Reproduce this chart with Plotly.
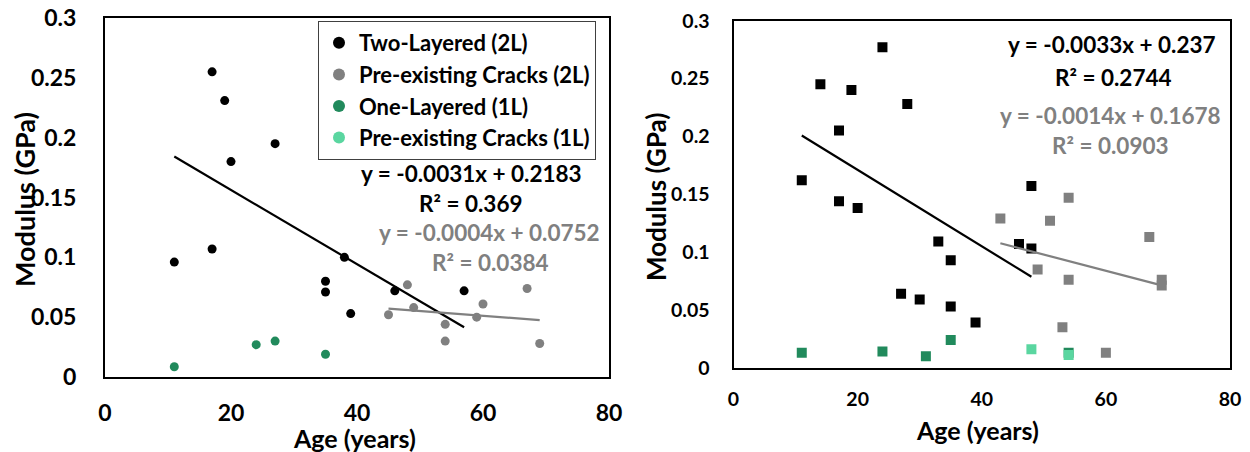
import plotly.graph_objects as go

# ---------------- data ----------------
# Left panel
L_2L_x = [11, 17, 17, 19, 20, 27, 35, 35, 38, 39, 46, 57]
L_2L_y = [0.096, 0.107, 0.255, 0.231, 0.180, 0.195, 0.080, 0.071, 0.100, 0.053, 0.072, 0.072]
L_pre2L_x = [45, 48, 49, 54, 54, 59, 60, 67, 69]
L_pre2L_y = [0.052, 0.077, 0.058, 0.044, 0.030, 0.050, 0.061, 0.074, 0.028]
L_1L_x = [11, 24, 27, 35]
L_1L_y = [0.0086, 0.027, 0.030, 0.019]
L_pre1L_x = [None]
L_pre1L_y = [None]

# Right panel
R_2L_x = [11, 14, 17, 17, 19, 20, 24, 27, 28, 30, 33, 35, 35, 39, 46, 48, 48]
R_2L_y = [0.162, 0.245, 0.205, 0.144, 0.240, 0.138, 0.277, 0.064, 0.228, 0.059,
          0.109, 0.093, 0.053, 0.039, 0.107, 0.103, 0.157]
R_pre2L_x = [43, 49, 51, 53, 54, 54, 60, 67, 69, 69]
R_pre2L_y = [0.129, 0.085, 0.127, 0.035, 0.147, 0.076, 0.013, 0.113, 0.076, 0.071]
R_1L_x = [11, 24, 31, 35, 54]
R_1L_y = [0.013, 0.014, 0.010, 0.024, 0.013]
R_pre1L_x = [48, 54]
R_pre1L_y = [0.016, 0.011]

# Linear trendline coefficients (slope, intercept, R^2) as printed on the chart
L_2L_fit = [-0.0031, 0.2183, "0.369"]
L_pre2L_fit = [-0.0004, 0.0752, "0.0384"]
R_2L_fit = [-0.0033, 0.237, "0.2744"]
R_pre2L_fit = [-0.0014, 0.1678, "0.0903"]

series_names = ["Two-Layered (2L)", "Pre-existing Cracks (2L)",
                "One-Layered (1L)", "Pre-existing Cracks (1L)"]
x_ticks = [0, 20, 40, 60, 80]
y_ticks = [0, 0.05, 0.1, 0.15, 0.2, 0.25, 0.3]
y_tick_text = ["0", "0.05", "0.1", "0.15", "0.2", "0.25", "0.3"]

# ---------------- styling ----------------
W, H = 1250, 452
FONT = "Lato"
C_BLACK = "#000000"
C_GRAY = "#808080"
C_DGREEN = "#218a5c"
C_LGREEN = "#5ad6a0"
colors = [C_BLACK, C_GRAY, C_DGREEN, C_LGREEN]


def px(x):
    return x / W


def py(y):
    return 1 - y / H


fig = go.Figure()

left_sets = [(L_2L_x, L_2L_y), (L_pre2L_x, L_pre2L_y), (L_1L_x, L_1L_y), (L_pre1L_x, L_pre1L_y)]
for (xs, ys), name, c in zip(left_sets, series_names, colors):
    fig.add_trace(go.Scatter(x=xs, y=ys, mode="markers", name=name,
                             marker=dict(color=c, size=9, symbol="circle"),
                             xaxis="x", yaxis="y", showlegend=True))

right_sets = [(R_2L_x, R_2L_y), (R_pre2L_x, R_pre2L_y), (R_1L_x, R_1L_y), (R_pre1L_x, R_pre1L_y)]
for (xs, ys), name, c in zip(right_sets, series_names, colors):
    fig.add_trace(go.Scatter(x=xs, y=ys, mode="markers", name=name,
                             marker=dict(color=c, size=10, symbol="square"),
                             xaxis="x2", yaxis="y2", showlegend=False))


def trend(xs, fit, color, xa, ya):
    x0, x1 = min(xs), max(xs)
    fig.add_trace(go.Scatter(x=[x0, x1], y=[fit[0] * x0 + fit[1], fit[0] * x1 + fit[1]],
                             mode="lines", line=dict(color=color, width=2.2),
                             xaxis=xa, yaxis=ya, showlegend=False, hoverinfo="skip"))


trend(L_2L_x, L_2L_fit, C_BLACK, "x", "y")
trend(L_pre2L_x, L_pre2L_fit, C_GRAY, "x", "y")
trend(R_2L_x, R_2L_fit, C_BLACK, "x2", "y2")
trend(R_pre2L_x, R_pre2L_fit, C_GRAY, "x2", "y2")

annotations = []


def add_text(text, x, y, size, color, angle=0):
    annotations.append(dict(text=f"<b>{text}</b>", x=px(x), y=py(y), xref="paper", yref="paper",
                            xanchor="center", yanchor="middle", showarrow=False, textangle=angle,
                            font=dict(family=FONT, size=size, color=color)))


def fmt_eq(fit):
    s = f"{fit[0]:.4f}".rstrip("0")
    return f"y = {s}x + {fit[1]}"


EQ = 22.5
add_text(fmt_eq(L_2L_fit), 471, 173, EQ, C_BLACK)
add_text(f"R² = {L_2L_fit[2]}", 471, 203, EQ, C_BLACK)
add_text(fmt_eq(L_pre2L_fit), 489, 232, EQ, C_GRAY)
add_text(f"R² = {L_pre2L_fit[2]}", 490, 262, EQ, C_GRAY)
add_text(fmt_eq(R_2L_fit), 1112, 45, EQ, C_BLACK)
add_text(f"R² = {R_2L_fit[2]}", 1113, 77, EQ, C_BLACK)
add_text(fmt_eq(R_pre2L_fit), 1110, 115, EQ, C_GRAY)
add_text(f"R² = {R_pre2L_fit[2]}", 1110, 146, EQ, C_GRAY)

# axis titles
add_text("Modulus (GPa)", 24, 200, 27, C_BLACK, angle=-90)
add_text("Age (years)", 355, 438, 25, C_BLACK)
add_text("Modulus (GPa)", 656, 197, 26, C_BLACK, angle=-90)
add_text("Age (years)", 977, 430, 25, C_BLACK)

axis_common = dict(showgrid=False, zeroline=False, showline=True, linecolor="black",
                   linewidth=2, mirror=True, ticks="outside", tickcolor="rgba(0,0,0,0)",
                   automargin=False)

fig.update_layout(
    template="none",
    width=W, height=H,
    margin=dict(l=0, r=0, t=0, b=0, autoexpand=False),
    paper_bgcolor="white", plot_bgcolor="white",
    font=dict(family=FONT, color="black"),
    xaxis=dict(domain=[px(105), px(609)], range=[0, 80], tickvals=x_ticks,
               ticklen=14, tickfont=dict(size=23, family=FONT, weight="bold"),
               anchor="y", **axis_common),
    yaxis=dict(domain=[py(377), py(18)], range=[0, 0.3], tickvals=y_ticks, ticktext=y_tick_text,
               ticklen=22, tickfont=dict(size=23, family=FONT, weight="bold"),
               anchor="x", **axis_common),
    xaxis2=dict(domain=[px(733.5), px(1230)], range=[0, 80], tickvals=x_ticks,
                ticklen=13, tickfont=dict(size=19.5, family=FONT, weight="bold"),
                anchor="y2", **axis_common),
    yaxis2=dict(domain=[py(367.7), py(20.7)], range=[0, 0.3], tickvals=y_ticks, ticktext=y_tick_text,
                ticklen=18, tickfont=dict(size=19.5, family=FONT, weight="bold"),
                anchor="x2", **axis_common),
    legend=dict(x=px(318), y=py(21), xanchor="left", yanchor="top",
                bgcolor="white", bordercolor="#404040", borderwidth=1,
                font=dict(size=22, family=FONT, weight="bold", color="black"),
                itemsizing="constant", tracegroupgap=0),
    annotations=annotations,
    showlegend=True,
    hovermode="closest",
)

fig.write_html("out.html")
